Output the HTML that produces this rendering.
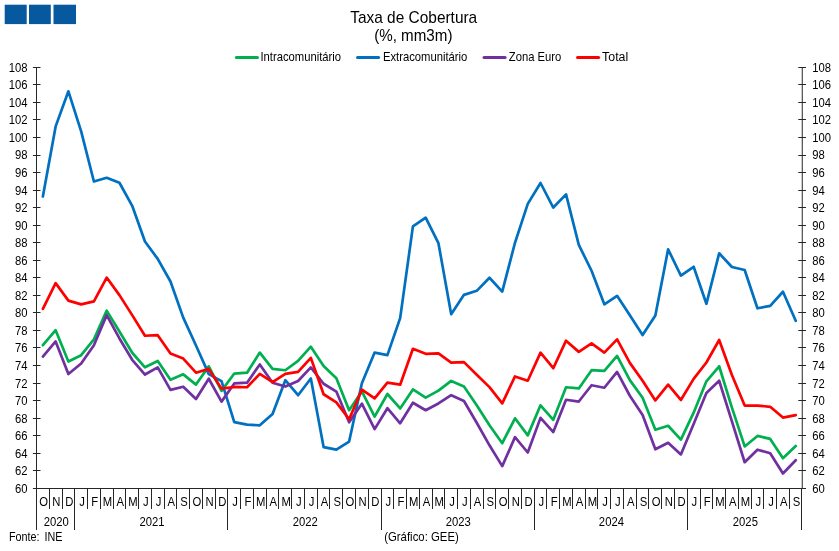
<!DOCTYPE html>
<html lang="pt"><head><meta charset="utf-8"><title>Taxa de Cobertura</title>
<style>
html,body{margin:0;padding:0;background:#fff;}
body{width:839px;height:551px;overflow:hidden;font-family:"Liberation Sans",sans-serif;}
svg{display:block;}
text{font-family:"Liberation Sans",sans-serif;fill:#000;}
.s{font-size:12px;}
.t{font-size:16px;}
.ln{fill:none;stroke-width:2.7;stroke-linejoin:round;stroke-linecap:round;}
.ax{stroke:#262626;stroke-width:1;fill:none;shape-rendering:crispEdges;}
</style></head><body>
<svg width="839" height="551" viewBox="0 0 839 551">
<rect width="839" height="551" fill="#fff"/>
<rect x="4.7" y="4.7" width="22" height="19.4" fill="#07599f"/>
<rect x="29" y="4.7" width="21.8" height="19.4" fill="#07599f"/>
<rect x="53.5" y="4.7" width="22.5" height="19.4" fill="#07599f"/>

<text class="t" transform="translate(413.70 22.80) scale(0.965 1)" text-anchor="middle">Taxa de Cobertura</text>
<text class="t" transform="translate(413.30 41.10) scale(0.948 1)" text-anchor="middle">(%, mm3m)</text>

<line x1="236.4" y1="57.5" x2="257.5" y2="57.5" stroke="#00b050" stroke-width="3" stroke-linecap="round"/>
<text class="s" transform="translate(260.40 60.90) scale(0.94 1)">Intracomunitário</text>
<line x1="357.5" y1="57.5" x2="378.6" y2="57.5" stroke="#0070c0" stroke-width="3" stroke-linecap="round"/>
<text class="s" transform="translate(382.90 60.90) scale(0.94 1)">Extracomunitário</text>
<line x1="484.0" y1="57.5" x2="505.1" y2="57.5" stroke="#7030a0" stroke-width="3" stroke-linecap="round"/>
<text class="s" transform="translate(508.80 60.90) scale(0.94 1)">Zona Euro</text>
<line x1="577.5" y1="57.5" x2="598.6" y2="57.5" stroke="#ff0000" stroke-width="3" stroke-linecap="round"/>
<text class="s" transform="translate(602.10 60.90) scale(1.03 1)">Total</text>
<path class="ax" d="M36.5 67.2V530M801.5 488V530M36.5 488.5H802M49.5 488.5V509M62.5 488.5V509M74.5 488.5V530M87.5 488.5V509M100.5 488.5V509M113.5 488.5V509M125.5 488.5V509M138.5 488.5V509M151.5 488.5V509M164.5 488.5V509M176.5 488.5V509M189.5 488.5V509M202.5 488.5V509M215.5 488.5V509M227.5 488.5V530M240.5 488.5V509M253.5 488.5V509M266.5 488.5V509M278.5 488.5V509M291.5 488.5V509M304.5 488.5V509M317.5 488.5V509M329.5 488.5V509M342.5 488.5V509M355.5 488.5V509M368.5 488.5V509M381.5 488.5V530M393.5 488.5V509M406.5 488.5V509M419.5 488.5V509M432.5 488.5V509M444.5 488.5V509M457.5 488.5V509M470.5 488.5V509M483.5 488.5V509M495.5 488.5V509M508.5 488.5V509M521.5 488.5V509M534.5 488.5V530M546.5 488.5V509M559.5 488.5V509M572.5 488.5V509M585.5 488.5V509M597.5 488.5V509M610.5 488.5V509M623.5 488.5V509M636.5 488.5V509M648.5 488.5V509M661.5 488.5V509M674.5 488.5V509M687.5 488.5V530M700.5 488.5V509M712.5 488.5V509M725.5 488.5V509M738.5 488.5V509M751.5 488.5V509M763.5 488.5V509M776.5 488.5V509M789.5 488.5V509"/>
<path d="M802.25 67.2V489M32.9 488.50H40.5M798.3 488.50H806M32.9 470.50H40.5M798.3 470.50H806M32.9 453.50H40.5M798.3 453.50H806M32.9 435.50H40.5M798.3 435.50H806M32.9 418.50H40.5M798.3 418.50H806M32.9 400.50H40.5M798.3 400.50H806M32.9 383.50H40.5M798.3 383.50H806M32.9 365.50H40.5M798.3 365.50H806M32.9 347.50H40.5M798.3 347.50H806M32.9 330.50H40.5M798.3 330.50H806M32.9 312.50H40.5M798.3 312.50H806M32.9 295.50H40.5M798.3 295.50H806M32.9 277.50H40.5M798.3 277.50H806M32.9 260.50H40.5M798.3 260.50H806M32.9 242.50H40.5M798.3 242.50H806M32.9 225.50H40.5M798.3 225.50H806M32.9 207.50H40.5M798.3 207.50H806M32.9 190.50H40.5M798.3 190.50H806M32.9 172.50H40.5M798.3 172.50H806M32.9 155.50H40.5M798.3 155.50H806M32.9 137.50H40.5M798.3 137.50H806M32.9 119.50H40.5M798.3 119.50H806M32.9 102.50H40.5M798.3 102.50H806M32.9 84.50H40.5M798.3 84.50H806M32.9 67.50H40.5M798.3 67.50H806" stroke="#262626" stroke-width="1" fill="none"/>
<text class="s" transform="translate(27.60 492.80) scale(0.94 1)" text-anchor="end">60</text>
<text class="s" transform="translate(812.20 492.80) scale(0.94 1)">60</text>
<text class="s" transform="translate(27.60 475.25) scale(0.94 1)" text-anchor="end">62</text>
<text class="s" transform="translate(812.20 475.25) scale(0.94 1)">62</text>
<text class="s" transform="translate(27.60 457.71) scale(0.94 1)" text-anchor="end">64</text>
<text class="s" transform="translate(812.20 457.71) scale(0.94 1)">64</text>
<text class="s" transform="translate(27.60 440.16) scale(0.94 1)" text-anchor="end">66</text>
<text class="s" transform="translate(812.20 440.16) scale(0.94 1)">66</text>
<text class="s" transform="translate(27.60 422.62) scale(0.94 1)" text-anchor="end">68</text>
<text class="s" transform="translate(812.20 422.62) scale(0.94 1)">68</text>
<text class="s" transform="translate(27.60 405.07) scale(0.94 1)" text-anchor="end">70</text>
<text class="s" transform="translate(812.20 405.07) scale(0.94 1)">70</text>
<text class="s" transform="translate(27.60 387.52) scale(0.94 1)" text-anchor="end">72</text>
<text class="s" transform="translate(812.20 387.52) scale(0.94 1)">72</text>
<text class="s" transform="translate(27.60 369.98) scale(0.94 1)" text-anchor="end">74</text>
<text class="s" transform="translate(812.20 369.98) scale(0.94 1)">74</text>
<text class="s" transform="translate(27.60 352.43) scale(0.94 1)" text-anchor="end">76</text>
<text class="s" transform="translate(812.20 352.43) scale(0.94 1)">76</text>
<text class="s" transform="translate(27.60 334.89) scale(0.94 1)" text-anchor="end">78</text>
<text class="s" transform="translate(812.20 334.89) scale(0.94 1)">78</text>
<text class="s" transform="translate(27.60 317.34) scale(0.94 1)" text-anchor="end">80</text>
<text class="s" transform="translate(812.20 317.34) scale(0.94 1)">80</text>
<text class="s" transform="translate(27.60 299.79) scale(0.94 1)" text-anchor="end">82</text>
<text class="s" transform="translate(812.20 299.79) scale(0.94 1)">82</text>
<text class="s" transform="translate(27.60 282.25) scale(0.94 1)" text-anchor="end">84</text>
<text class="s" transform="translate(812.20 282.25) scale(0.94 1)">84</text>
<text class="s" transform="translate(27.60 264.70) scale(0.94 1)" text-anchor="end">86</text>
<text class="s" transform="translate(812.20 264.70) scale(0.94 1)">86</text>
<text class="s" transform="translate(27.60 247.16) scale(0.94 1)" text-anchor="end">88</text>
<text class="s" transform="translate(812.20 247.16) scale(0.94 1)">88</text>
<text class="s" transform="translate(27.60 229.61) scale(0.94 1)" text-anchor="end">90</text>
<text class="s" transform="translate(812.20 229.61) scale(0.94 1)">90</text>
<text class="s" transform="translate(27.60 212.06) scale(0.94 1)" text-anchor="end">92</text>
<text class="s" transform="translate(812.20 212.06) scale(0.94 1)">92</text>
<text class="s" transform="translate(27.60 194.52) scale(0.94 1)" text-anchor="end">94</text>
<text class="s" transform="translate(812.20 194.52) scale(0.94 1)">94</text>
<text class="s" transform="translate(27.60 176.97) scale(0.94 1)" text-anchor="end">96</text>
<text class="s" transform="translate(812.20 176.97) scale(0.94 1)">96</text>
<text class="s" transform="translate(27.60 159.43) scale(0.94 1)" text-anchor="end">98</text>
<text class="s" transform="translate(812.20 159.43) scale(0.94 1)">98</text>
<text class="s" transform="translate(27.60 141.88) scale(0.94 1)" text-anchor="end">100</text>
<text class="s" transform="translate(812.20 141.88) scale(0.94 1)">100</text>
<text class="s" transform="translate(27.60 124.33) scale(0.94 1)" text-anchor="end">102</text>
<text class="s" transform="translate(812.20 124.33) scale(0.94 1)">102</text>
<text class="s" transform="translate(27.60 106.79) scale(0.94 1)" text-anchor="end">104</text>
<text class="s" transform="translate(812.20 106.79) scale(0.94 1)">104</text>
<text class="s" transform="translate(27.60 89.24) scale(0.94 1)" text-anchor="end">106</text>
<text class="s" transform="translate(812.20 89.24) scale(0.94 1)">106</text>
<text class="s" transform="translate(27.60 71.70) scale(0.94 1)" text-anchor="end">108</text>
<text class="s" transform="translate(812.20 71.70) scale(0.94 1)">108</text>
<text class="s" transform="translate(43.68 505.60) scale(0.94 1)" text-anchor="middle">O</text>
<text class="s" transform="translate(56.44 505.60) scale(0.94 1)" text-anchor="middle">N</text>
<text class="s" transform="translate(69.20 505.60) scale(0.94 1)" text-anchor="middle">D</text>
<text class="s" transform="translate(81.96 505.60) scale(0.94 1)" text-anchor="middle">J</text>
<text class="s" transform="translate(94.72 505.60) scale(0.94 1)" text-anchor="middle">F</text>
<text class="s" transform="translate(107.48 505.60) scale(0.94 1)" text-anchor="middle">M</text>
<text class="s" transform="translate(120.24 505.60) scale(0.94 1)" text-anchor="middle">A</text>
<text class="s" transform="translate(133.00 505.60) scale(0.94 1)" text-anchor="middle">M</text>
<text class="s" transform="translate(145.76 505.60) scale(0.94 1)" text-anchor="middle">J</text>
<text class="s" transform="translate(158.52 505.60) scale(0.94 1)" text-anchor="middle">J</text>
<text class="s" transform="translate(171.28 505.60) scale(0.94 1)" text-anchor="middle">A</text>
<text class="s" transform="translate(184.04 505.60) scale(0.94 1)" text-anchor="middle">S</text>
<text class="s" transform="translate(196.80 505.60) scale(0.94 1)" text-anchor="middle">O</text>
<text class="s" transform="translate(209.56 505.60) scale(0.94 1)" text-anchor="middle">N</text>
<text class="s" transform="translate(222.32 505.60) scale(0.94 1)" text-anchor="middle">D</text>
<text class="s" transform="translate(235.08 505.60) scale(0.94 1)" text-anchor="middle">J</text>
<text class="s" transform="translate(247.84 505.60) scale(0.94 1)" text-anchor="middle">F</text>
<text class="s" transform="translate(260.60 505.60) scale(0.94 1)" text-anchor="middle">M</text>
<text class="s" transform="translate(273.36 505.60) scale(0.94 1)" text-anchor="middle">A</text>
<text class="s" transform="translate(286.12 505.60) scale(0.94 1)" text-anchor="middle">M</text>
<text class="s" transform="translate(298.88 505.60) scale(0.94 1)" text-anchor="middle">J</text>
<text class="s" transform="translate(311.64 505.60) scale(0.94 1)" text-anchor="middle">J</text>
<text class="s" transform="translate(324.40 505.60) scale(0.94 1)" text-anchor="middle">A</text>
<text class="s" transform="translate(337.16 505.60) scale(0.94 1)" text-anchor="middle">S</text>
<text class="s" transform="translate(349.92 505.60) scale(0.94 1)" text-anchor="middle">O</text>
<text class="s" transform="translate(362.68 505.60) scale(0.94 1)" text-anchor="middle">N</text>
<text class="s" transform="translate(375.44 505.60) scale(0.94 1)" text-anchor="middle">D</text>
<text class="s" transform="translate(388.20 505.60) scale(0.94 1)" text-anchor="middle">J</text>
<text class="s" transform="translate(400.96 505.60) scale(0.94 1)" text-anchor="middle">F</text>
<text class="s" transform="translate(413.72 505.60) scale(0.94 1)" text-anchor="middle">M</text>
<text class="s" transform="translate(426.48 505.60) scale(0.94 1)" text-anchor="middle">A</text>
<text class="s" transform="translate(439.24 505.60) scale(0.94 1)" text-anchor="middle">M</text>
<text class="s" transform="translate(452.00 505.60) scale(0.94 1)" text-anchor="middle">J</text>
<text class="s" transform="translate(464.76 505.60) scale(0.94 1)" text-anchor="middle">J</text>
<text class="s" transform="translate(477.52 505.60) scale(0.94 1)" text-anchor="middle">A</text>
<text class="s" transform="translate(490.28 505.60) scale(0.94 1)" text-anchor="middle">S</text>
<text class="s" transform="translate(503.04 505.60) scale(0.94 1)" text-anchor="middle">O</text>
<text class="s" transform="translate(515.80 505.60) scale(0.94 1)" text-anchor="middle">N</text>
<text class="s" transform="translate(528.56 505.60) scale(0.94 1)" text-anchor="middle">D</text>
<text class="s" transform="translate(541.32 505.60) scale(0.94 1)" text-anchor="middle">J</text>
<text class="s" transform="translate(554.08 505.60) scale(0.94 1)" text-anchor="middle">F</text>
<text class="s" transform="translate(566.84 505.60) scale(0.94 1)" text-anchor="middle">M</text>
<text class="s" transform="translate(579.60 505.60) scale(0.94 1)" text-anchor="middle">A</text>
<text class="s" transform="translate(592.36 505.60) scale(0.94 1)" text-anchor="middle">M</text>
<text class="s" transform="translate(605.12 505.60) scale(0.94 1)" text-anchor="middle">J</text>
<text class="s" transform="translate(617.88 505.60) scale(0.94 1)" text-anchor="middle">J</text>
<text class="s" transform="translate(630.64 505.60) scale(0.94 1)" text-anchor="middle">A</text>
<text class="s" transform="translate(643.40 505.60) scale(0.94 1)" text-anchor="middle">S</text>
<text class="s" transform="translate(656.16 505.60) scale(0.94 1)" text-anchor="middle">O</text>
<text class="s" transform="translate(668.92 505.60) scale(0.94 1)" text-anchor="middle">N</text>
<text class="s" transform="translate(681.68 505.60) scale(0.94 1)" text-anchor="middle">D</text>
<text class="s" transform="translate(694.44 505.60) scale(0.94 1)" text-anchor="middle">J</text>
<text class="s" transform="translate(707.20 505.60) scale(0.94 1)" text-anchor="middle">F</text>
<text class="s" transform="translate(719.96 505.60) scale(0.94 1)" text-anchor="middle">M</text>
<text class="s" transform="translate(732.72 505.60) scale(0.94 1)" text-anchor="middle">A</text>
<text class="s" transform="translate(745.48 505.60) scale(0.94 1)" text-anchor="middle">M</text>
<text class="s" transform="translate(758.24 505.60) scale(0.94 1)" text-anchor="middle">J</text>
<text class="s" transform="translate(771.00 505.60) scale(0.94 1)" text-anchor="middle">J</text>
<text class="s" transform="translate(783.76 505.60) scale(0.94 1)" text-anchor="middle">A</text>
<text class="s" transform="translate(796.52 505.60) scale(0.94 1)" text-anchor="middle">S</text>
<text class="s" transform="translate(56.34 525.60) scale(0.94 1)" text-anchor="middle">2020</text>
<text class="s" transform="translate(152.04 525.60) scale(0.94 1)" text-anchor="middle">2021</text>
<text class="s" transform="translate(305.16 525.60) scale(0.94 1)" text-anchor="middle">2022</text>
<text class="s" transform="translate(458.28 525.60) scale(0.94 1)" text-anchor="middle">2023</text>
<text class="s" transform="translate(611.40 525.60) scale(0.94 1)" text-anchor="middle">2024</text>
<text class="s" transform="translate(745.38 525.60) scale(0.94 1)" text-anchor="middle">2025</text>
<text class="s" transform="translate(8.90 541.10) scale(0.9 1)">Fonte: <tspan dx="2.2">INE</tspan></text>
<text class="s" transform="translate(384.20 541.10) scale(0.948 1)">(Gráfico: GEE)</text>
<polyline class="ln" stroke="#00b050" points="42.88,345.21 55.64,330.21 68.40,361.53 81.16,355.21 93.92,339.42 106.68,310.65 119.44,331.44 132.20,352.76 144.96,367.32 157.72,361.00 170.48,379.78 183.24,374.34 196.00,384.60 208.76,366.36 221.52,390.92 234.28,373.55 247.04,372.67 259.80,352.58 272.56,368.90 285.32,370.22 298.08,360.92 310.84,346.70 323.60,366.00 336.36,378.29 349.12,410.22 361.88,391.45 374.64,416.54 387.40,393.99 400.16,408.47 412.92,389.43 425.68,397.67 438.44,390.66 451.20,380.92 463.96,386.45 476.72,405.22 489.48,425.31 502.24,443.21 515.00,418.29 527.76,435.40 540.52,405.31 553.28,419.78 566.04,387.24 578.80,388.46 591.56,370.22 604.32,370.92 617.08,355.92 629.84,380.13 642.60,397.67 655.36,429.70 668.12,425.75 680.88,439.61 693.64,412.68 706.40,381.27 719.16,366.27 731.92,407.59 744.68,446.45 757.44,435.93 770.20,438.91 782.96,458.21 795.72,445.93"/>
<polyline class="ln" stroke="#0070c0" points="42.88,196.51 55.64,126.41 68.40,91.32 81.16,131.41 93.92,181.51 106.68,177.74 119.44,182.74 132.20,205.81 144.96,241.43 157.72,258.89 170.48,281.52 183.24,317.67 196.00,345.48 208.76,374.08 221.52,381.09 234.28,422.06 247.04,424.61 259.80,425.31 272.56,413.99 285.32,380.22 298.08,395.22 310.84,378.46 323.60,447.07 336.36,449.61 349.12,441.54 361.88,383.29 374.64,352.58 387.40,355.13 400.16,318.10 412.92,226.43 425.68,217.65 438.44,243.18 451.20,314.16 463.96,294.86 476.72,290.82 489.48,277.75 502.24,291.61 515.00,242.74 527.76,203.88 540.52,183.00 553.28,207.56 566.04,194.32 578.80,244.94 591.56,270.73 604.32,304.33 617.08,295.82 629.84,315.30 642.60,335.04 655.36,315.56 668.12,249.32 680.88,275.55 693.64,266.78 706.40,303.80 719.16,253.27 731.92,267.04 744.68,270.03 757.44,308.28 770.20,305.82 782.96,291.78 795.72,320.82"/>
<polyline class="ln" stroke="#7030a0" points="42.88,356.53 55.64,341.44 68.40,374.08 81.16,363.55 93.92,345.21 106.68,315.12 119.44,338.46 132.20,359.78 144.96,374.51 157.72,367.32 170.48,389.87 183.24,386.71 196.00,399.08 208.76,378.73 221.52,401.62 234.28,383.46 247.04,382.67 259.80,364.43 272.56,382.67 285.32,386.53 298.08,381.01 310.84,367.41 323.60,383.73 336.36,391.53 349.12,422.33 361.88,403.73 374.64,429.08 387.40,408.20 400.16,423.29 412.92,402.76 425.68,410.22 438.44,403.47 451.20,395.22 463.96,401.01 476.72,422.77 489.48,445.31 502.24,466.10 515.00,437.15 527.76,452.51 540.52,417.85 553.28,432.07 566.04,399.78 578.80,401.54 591.56,385.22 604.32,387.76 617.08,371.97 629.84,395.74 642.60,414.96 655.36,449.26 668.12,442.77 680.88,454.44 693.64,423.91 706.40,393.03 719.16,380.74 731.92,421.36 744.68,462.24 757.44,449.70 770.20,453.21 782.96,473.47 795.72,460.23"/>
<polyline class="ln" stroke="#ff0000" points="42.88,308.89 55.64,283.10 68.40,300.65 81.16,304.33 93.92,301.35 106.68,277.57 119.44,295.12 132.20,315.12 144.96,335.74 157.72,335.21 170.48,353.46 183.24,358.55 196.00,372.67 208.76,368.90 221.52,388.64 234.28,386.97 247.04,387.24 259.80,373.90 272.56,382.23 285.32,373.90 298.08,371.88 310.84,357.85 323.60,394.25 336.36,402.32 349.12,419.26 361.88,389.60 374.64,398.46 387.40,382.67 400.16,384.69 412.92,348.81 425.68,353.81 438.44,353.37 451.20,362.58 463.96,362.14 476.72,374.69 489.48,387.15 502.24,403.38 515.00,376.44 527.76,380.74 540.52,352.67 553.28,368.20 566.04,340.65 578.80,351.88 591.56,343.37 604.32,352.67 617.08,339.33 629.84,362.85 642.60,380.74 655.36,400.39 668.12,384.60 680.88,399.96 693.64,378.90 706.40,362.50 719.16,340.04 731.92,375.04 744.68,405.57 757.44,405.57 770.20,406.80 782.96,417.59 795.72,415.13"/>
</svg></body></html>
